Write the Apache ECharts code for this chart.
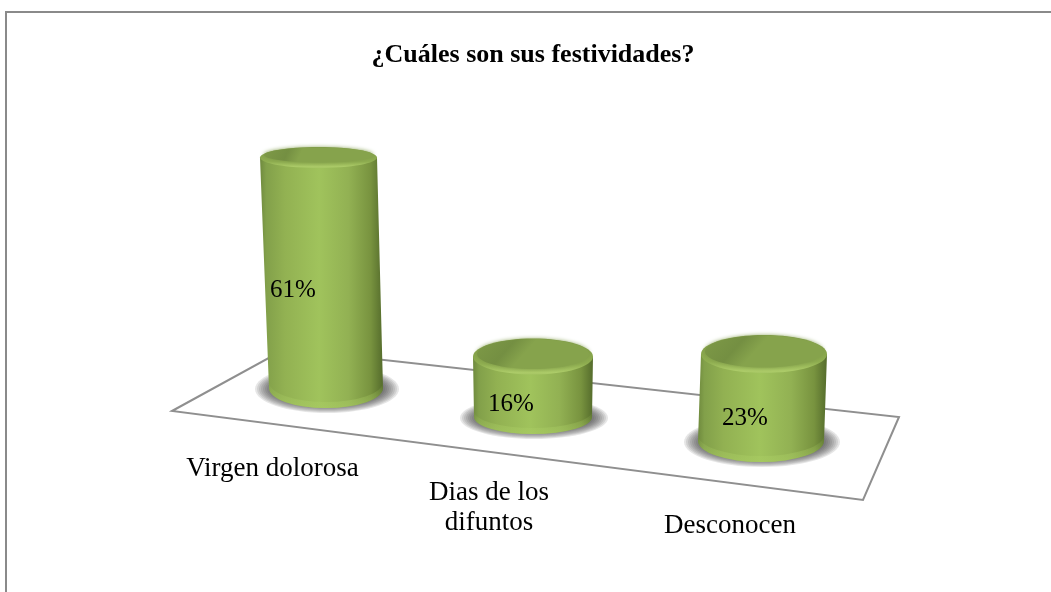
<!DOCTYPE html>
<html>
<head>
<meta charset="utf-8">
<style>html,body{margin:0;padding:0;background:#fff}#c{width:1051px;height:592px}</style>
<script src="https://cdn.jsdelivr.net/npm/echarts@6/dist/echarts.min.js"></script>
</head>
<body>
<div id="c"></div>
<script>
const titleText = '¿Cuáles son sus festividades?';
const categories = ['Virgen dolorosa', 'Dias de los\ndifuntos', 'Desconocen'];
const percentages = [61, 16, 23];

// Perspective layout of the pseudo-3D scene, per category
const baseShift = [[5, 0], [-9, 29], [-2, 53]];
const topDx = [-7.5, 0, 3];
const topHalf = [58.5, 60, 63];
const baseHalf = [57, 59, 63];
const topRy = [10.5, 18, 19];
const baseRy = [20, 17, 21];
const labelPos = [[293, 290], [511, 404], [745, 418]];
const catPos = [[272.5, 469], [489, 508], [730, 526]];
const floor = [[172, 411], [285, 349], [899, 417], [863, 500]];

const chart = echarts.init(document.getElementById('c'), null, {renderer: 'canvas'});

const bodyFill = {type: 'linear', x: 0, y: 0, x2: 1, y2: 0, colorStops: [
  {offset: 0, color: '#6f8a3e'}, {offset: 0.05, color: '#82a04a'}, {offset: 0.2, color: '#92b152'},
  {offset: 0.48, color: '#a0c35c'}, {offset: 0.72, color: '#92b153'}, {offset: 0.9, color: '#78933f'},
  {offset: 1, color: '#556c2c'}
]};
const lipFill = {type: 'linear', x: 0, y: 0, x2: 0, y2: 1, colorStops: [
  {offset: 0, color: '#7b9645'}, {offset: 0.7, color: '#8fae50'}, {offset: 0.95, color: '#adcc69'}, {offset: 1, color: '#a4c462'}
]};
const capFill = {type: 'linear', x: 0, y: 0, x2: 0.3, y2: 1, colorStops: [
  {offset: 0, color: '#7e9a47'}, {offset: 0.65, color: '#748f42'}, {offset: 1, color: '#86a34c'}
]};
const footFill = {type: 'linear', x: 0, y: 0, x2: 0, y2: 1, colorStops: [
  {offset: 0, color: 'rgba(170,205,100,0)'}, {offset: 1, color: 'rgba(170,205,100,0.55)'}
]};

// Soft contact shadow: concentric translucent ellipses
function softShadow(cx, cy, rx, ry) {
  const rings = [];
  for (let k = 0; k < 10; k++) {
    const grow = 14 - k * 2;
    rings.push({type: 'ellipse', shape: {cx: cx, cy: cy, rx: rx + grow, ry: ry + grow * 0.5},
      style: {fill: 'rgba(60,60,60,0.13)'}});
  }
  return rings;
}

function renderCylinder(params, api) {
  const i = api.value(0);
  const v = api.value(1);
  const zero = api.coord([i, 0]);
  const head = api.coord([i, v]);
  const bx = zero[0] + baseShift[i][0];
  const by = zero[1] + baseShift[i][1];
  const tx = bx + topDx[i];
  const ty = head[1] + baseShift[i][1];
  const bh = baseHalf[i], th = topHalf[i], bry = baseRy[i], tr = topRy[i];
  const body = `M${tx - th} ${ty} L${bx - bh} ${by} A${bh} ${bry} 0 0 0 ${bx + bh} ${by} L${tx + th} ${ty} Z`;
  const foot = `M${bx - bh} ${by} A${bh} ${bry} 0 0 0 ${bx + bh} ${by} L${bx + bh} ${by - 6} A${bh} ${bry} 0 0 1 ${bx - bh} ${by - 6} Z`;
  return {
    type: 'group',
    children: softShadow(bx + 1, by + 1, bh + 1, bry - 3).concat([
      {type: 'path', shape: {pathData: body}, style: {fill: bodyFill}},
      {type: 'path', shape: {pathData: foot}, style: {fill: footFill}},
      {type: 'ellipse', shape: {cx: tx, cy: ty, rx: th, ry: tr}, style: {fill: lipFill}},
      {type: 'ellipse', shape: {cx: tx, cy: ty - 2.5, rx: th - 4, ry: tr - 3},
        style: {fill: capFill, shadowBlur: 4, shadowColor: '#7f9b48'}},
      {type: 'text', style: {x: labelPos[i][0], y: labelPos[i][1], text: v + '%', fill: '#000',
        font: '25px "Liberation Serif"', align: 'center', verticalAlign: 'middle'}},
      {type: 'text', style: {x: catPos[i][0], y: catPos[i][1], text: categories[i], fill: '#000',
        font: '27px "Liberation Serif"', lineHeight: 30, align: 'center', verticalAlign: 'middle'}}
    ])
  };
}

chart.setOption({
  animation: false,
  backgroundColor: '#fff',
  title: {
    text: titleText, left: 528, top: 37, textAlign: 'center',
    textStyle: {fontFamily: '"Liberation Serif"', fontWeight: 'bold', fontSize: 26, color: '#000'}
  },
  grid: {left: 210.5, top: 10, width: 663, height: 378},
  xAxis: {type: 'category', data: categories, show: false},
  yAxis: {type: 'value', min: 0, max: 100, show: false},
  graphic: [
    {type: 'polyline', silent: true, z: 0, shape: {points: [[6, 592], [6, 12], [1051, 12]]},
      style: {stroke: '#8a8a8a', lineWidth: 2, fill: null}},
    {type: 'polygon', silent: true, z: 0, shape: {points: floor},
      style: {stroke: '#8f8f8f', lineWidth: 2, fill: '#fff'}}
  ],
  series: [{
    type: 'custom',
    silent: true,
    renderItem: renderCylinder,
    encode: {x: 0, y: 1},
    data: percentages.map((p, i) => [i, p]),
    clip: false
  }]
});
</script>
</body>
</html>
